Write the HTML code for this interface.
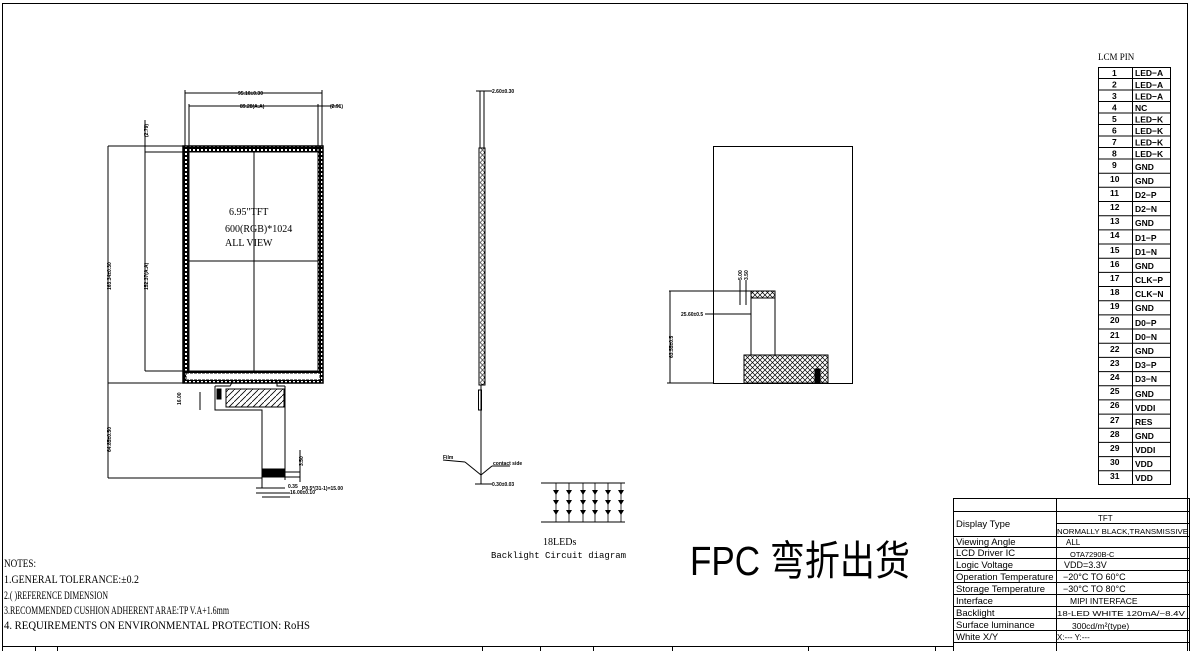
<!DOCTYPE html>
<html><head><meta charset="utf-8"><style>
html,body{margin:0;padding:0;background:#fff;}
svg{display:block;}
text{font-family:"Liberation Sans",sans-serif;fill:#000;}
.s{font-family:"Liberation Serif","Noto Serif CJK SC",serif;}
</style></head><body>
<svg width="1194" height="651" viewBox="0 0 1194 651" xmlns="http://www.w3.org/2000/svg">
<defs>
<pattern id="hat" width="6" height="6" patternUnits="userSpaceOnUse"><path d="M0 6L6 0" stroke="#000" stroke-width="0.8"/></pattern>
<pattern id="xh" width="5" height="5" patternUnits="userSpaceOnUse"><path d="M0 5L5 0M0 0L5 5" stroke="#000" stroke-width="0.7"/></pattern>
<pattern id="dots" width="4" height="4" patternUnits="userSpaceOnUse"><rect width="4" height="4" fill="#000"/><rect x="1" y="1" width="2" height="2" fill="#fff"/></pattern>
<pattern id="circ" width="5" height="5" patternUnits="userSpaceOnUse"><circle cx="2.5" cy="2.5" r="1.8" fill="none" stroke="#000" stroke-width="0.7"/></pattern>
</defs>
<g fill="none" stroke="#000" stroke-width="1">
<rect x="2.5" y="3.5" width="1185" height="650"/>
<line x1="2" y1="646.5" x2="953" y2="646.5"/>
<line x1="35.5" y1="646" x2="35.5" y2="651"/><line x1="57.5" y1="646" x2="57.5" y2="651"/>
<line x1="482.5" y1="646" x2="482.5" y2="651"/><line x1="540.5" y1="646" x2="540.5" y2="651"/>
<line x1="593.5" y1="646" x2="593.5" y2="651"/><line x1="672.5" y1="646" x2="672.5" y2="651"/>
<line x1="808.5" y1="646" x2="808.5" y2="651"/><line x1="935.5" y1="646" x2="935.5" y2="651"/>

<rect x="183" y="146" width="140" height="237" fill="url(#dots)" stroke-width="1.5"/>
<rect x="189" y="152" width="129" height="219" fill="#fff"/>
<rect x="186" y="373" width="134" height="7" fill="#fff" stroke-dasharray="3,1"/>
<line x1="254" y1="152" x2="254" y2="371"/><line x1="189" y1="261" x2="318" y2="261"/>
<line x1="185" y1="93" x2="322" y2="93"/><line x1="185" y1="90" x2="185" y2="146"/><line x1="322" y1="90" x2="322" y2="146"/>
<line x1="189" y1="106" x2="340" y2="106"/><line x1="189" y1="104" x2="189" y2="152"/><line x1="318" y1="104" x2="318" y2="152"/>
<line x1="108" y1="146" x2="184" y2="146"/><line x1="108" y1="146" x2="108" y2="478"/>
<line x1="108" y1="383" x2="184" y2="383"/>
<line x1="145" y1="120" x2="145" y2="371"/><line x1="145" y1="152" x2="189" y2="152"/><line x1="145" y1="371" x2="189" y2="371"/>
<line x1="108" y1="478" x2="262" y2="478"/>
<path d="M215 386V410H262V488M285 386V480"/>
<path d="M215 386H230L233 381M285 386H277V381"/>
<rect x="226" y="389" width="58" height="18" fill="url(#hat)"/>
<rect x="217" y="389" width="4" height="10" fill="#000"/>
<rect x="262" y="469" width="23" height="8" fill="#000"/>
<line x1="285" y1="472" x2="300" y2="472"/><line x1="285" y1="477" x2="300" y2="477"/>
<line x1="300" y1="450" x2="300" y2="482"/>
<line x1="256" y1="488" x2="285" y2="488"/><line x1="256" y1="493" x2="290" y2="493"/><line x1="262" y1="497" x2="290" y2="497"/>
<line x1="200" y1="392" x2="200" y2="410"/>

<line x1="476" y1="91" x2="492" y2="91"/>
<line x1="480" y1="91" x2="480" y2="148"/><line x1="484" y1="91" x2="484" y2="148"/>
<rect x="479" y="148" width="6" height="237" fill="url(#circ)"/>
<rect x="478.5" y="390" width="3" height="20"/>
<line x1="481" y1="385" x2="481" y2="484"/>
<line x1="443" y1="460" x2="465" y2="462"/><line x1="465" y1="462" x2="481" y2="475"/><line x1="481" y1="475" x2="492" y2="466"/><line x1="492" y1="466" x2="510" y2="466"/>
<line x1="475" y1="484" x2="492" y2="484"/>

<line x1="541" y1="483" x2="625" y2="483"/><line x1="541" y1="522" x2="625" y2="522"/>
<g stroke-width="0.8">
<line x1="556" y1="483" x2="556" y2="522"/><line x1="569" y1="483" x2="569" y2="522"/><line x1="583" y1="483" x2="583" y2="522"/>
<line x1="595" y1="483" x2="595" y2="522"/><line x1="608" y1="483" x2="608" y2="522"/><line x1="621" y1="483" x2="621" y2="522"/>
</g>
<g fill="#000" stroke="none">
<path d="M553 490h6l-3 5zM553 500h6l-3 5zM553 510h6l-3 5z"/>
<path d="M566 490h6l-3 5zM566 500h6l-3 5zM566 510h6l-3 5z"/>
<path d="M580 490h6l-3 5zM580 500h6l-3 5zM580 510h6l-3 5z"/>
<path d="M592 490h6l-3 5zM592 500h6l-3 5zM592 510h6l-3 5z"/>
<path d="M605 490h6l-3 5zM605 500h6l-3 5zM605 510h6l-3 5z"/>
<path d="M618 490h6l-3 5zM618 500h6l-3 5zM618 510h6l-3 5z"/>
</g>

<rect x="713.5" y="146.5" width="139" height="237"/>
<line x1="669" y1="291" x2="775" y2="291"/><line x1="670" y1="291" x2="670" y2="383"/><line x1="667" y1="383" x2="713" y2="383"/>
<rect x="751" y="291" width="24" height="7" fill="url(#xh)"/>
<line x1="751" y1="298" x2="751" y2="355"/><line x1="775" y1="298" x2="775" y2="355"/>
<line x1="705" y1="314" x2="751" y2="314"/>
<line x1="740" y1="280" x2="740" y2="305"/><line x1="746" y1="280" x2="746" y2="305"/>
<rect x="744" y="355" width="84" height="28" fill="url(#xh)"/>
<rect x="815" y="369" width="5" height="13" fill="#000"/>

<rect x="1098.5" y="67.5" width="72" height="417"/>
<line x1="1132.5" y1="67" x2="1132.5" y2="485"/>
</g>
<g stroke="#000" stroke-width="1">
<line x1="1098" y1="78.5" x2="1171" y2="78.5"/><line x1="1098" y1="90" x2="1171" y2="90"/>
<line x1="1098" y1="101.5" x2="1171" y2="101.5"/><line x1="1098" y1="113" x2="1171" y2="113"/>
<line x1="1098" y1="124.5" x2="1171" y2="124.5"/><line x1="1098" y1="136" x2="1171" y2="136"/>
<line x1="1098" y1="147.5" x2="1171" y2="147.5"/><line x1="1098" y1="159" x2="1171" y2="159"/>
<line x1="1098" y1="173.2" x2="1171" y2="173.2"/><line x1="1098" y1="187.3" x2="1171" y2="187.3"/>
<line x1="1098" y1="201.5" x2="1171" y2="201.5"/><line x1="1098" y1="215.7" x2="1171" y2="215.7"/>
<line x1="1098" y1="229.9" x2="1171" y2="229.9"/><line x1="1098" y1="244" x2="1171" y2="244"/>
<line x1="1098" y1="258.2" x2="1171" y2="258.2"/><line x1="1098" y1="272.4" x2="1171" y2="272.4"/>
<line x1="1098" y1="286.5" x2="1171" y2="286.5"/><line x1="1098" y1="300.7" x2="1171" y2="300.7"/>
<line x1="1098" y1="314.9" x2="1171" y2="314.9"/><line x1="1098" y1="329" x2="1171" y2="329"/>
<line x1="1098" y1="343.2" x2="1171" y2="343.2"/><line x1="1098" y1="357.4" x2="1171" y2="357.4"/>
<line x1="1098" y1="371.6" x2="1171" y2="371.6"/><line x1="1098" y1="385.7" x2="1171" y2="385.7"/>
<line x1="1098" y1="399.9" x2="1171" y2="399.9"/><line x1="1098" y1="414.1" x2="1171" y2="414.1"/>
<line x1="1098" y1="428.2" x2="1171" y2="428.2"/><line x1="1098" y1="442.4" x2="1171" y2="442.4"/>
<line x1="1098" y1="456.6" x2="1171" y2="456.6"/><line x1="1098" y1="470.7" x2="1171" y2="470.7"/>
</g>
<text x="1098" y="60" class="s" font-size="9" fill="#444">LCM PIN</text>
<g font-size="8.5" font-weight="bold">
<text x="1112" y="76">1</text><text x="1135" y="76">LED−A</text>
<text x="1112" y="87.5">2</text><text x="1135" y="88">LED−A</text>
<text x="1112" y="99">3</text><text x="1135" y="99.5">LED−A</text>
<text x="1112" y="110.5">4</text><text x="1135" y="111">NC</text>
<text x="1112" y="122">5</text><text x="1135" y="122.5">LED−K</text>
<text x="1112" y="133.5">6</text><text x="1135" y="134">LED−K</text>
<text x="1112" y="145">7</text><text x="1135" y="145.5">LED−K</text>
<text x="1112" y="156.5">8</text><text x="1135" y="157">LED−K</text>
<text x="1112" y="168">9</text><text x="1135" y="170">GND</text>
<text x="1110" y="182">10</text><text x="1135" y="184">GND</text>
<text x="1110" y="196">11</text><text x="1135" y="198">D2−P</text>
<text x="1110" y="210">12</text><text x="1135" y="212">D2−N</text>
<text x="1110" y="224">13</text><text x="1135" y="226">GND</text>
<text x="1110" y="238">14</text><text x="1135" y="241">D1−P</text>
<text x="1110" y="253">15</text><text x="1135" y="255">D1−N</text>
<text x="1110" y="267">16</text><text x="1135" y="269">GND</text>
<text x="1110" y="281">17</text><text x="1135" y="283">CLK−P</text>
<text x="1110" y="295">18</text><text x="1135" y="297">CLK−N</text>
<text x="1110" y="309">19</text><text x="1135" y="311">GND</text>
<text x="1110" y="323">20</text><text x="1135" y="326">D0−P</text>
<text x="1110" y="338">21</text><text x="1135" y="340">D0−N</text>
<text x="1110" y="352">22</text><text x="1135" y="354">GND</text>
<text x="1110" y="366">23</text><text x="1135" y="368">D3−P</text>
<text x="1110" y="380">24</text><text x="1135" y="382">D3−N</text>
<text x="1110" y="394">25</text><text x="1135" y="397">GND</text>
<text x="1110" y="408">26</text><text x="1135" y="411">VDDI</text>
<text x="1110" y="423">27</text><text x="1135" y="425">RES</text>
<text x="1110" y="437">28</text><text x="1135" y="439">GND</text>
<text x="1110" y="451">29</text><text x="1135" y="453">VDDI</text>
<text x="1110" y="465">30</text><text x="1135" y="467">VDD</text>
<text x="1110" y="479">31</text><text x="1135" y="481">VDD</text>
</g>

<g fill="none" stroke="#000" stroke-width="1">
<rect x="953.5" y="498.5" width="236" height="160"/>
<line x1="1056.5" y1="498" x2="1056.5" y2="651"/>
<line x1="953" y1="511.5" x2="1190" y2="511.5"/>
<line x1="1056" y1="523.5" x2="1190" y2="523.5"/>
<line x1="953" y1="536.5" x2="1190" y2="536.5"/>
<line x1="953" y1="547.5" x2="1190" y2="547.5"/>
<line x1="953" y1="558.5" x2="1190" y2="558.5"/>
<line x1="953" y1="570.5" x2="1190" y2="570.5"/>
<line x1="953" y1="582.5" x2="1190" y2="582.5"/>
<line x1="953" y1="594.5" x2="1190" y2="594.5"/>
<line x1="953" y1="606.5" x2="1190" y2="606.5"/>
<line x1="953" y1="618.5" x2="1190" y2="618.5"/>
<line x1="953" y1="630.5" x2="1190" y2="630.5"/>
<line x1="953" y1="642.5" x2="1190" y2="642.5"/>
</g>
<g font-size="9.5">
<text x="956" y="527">Display Type</text>
<text x="956" y="545">Viewing Angle</text>
<text x="956" y="556">LCD Driver IC</text>
<text x="956" y="568">Logic Voltage</text>
<text x="956" y="580">Operation Temperature</text>
<text x="956" y="592">Storage Temperature</text>
<text x="956" y="604">Interface</text>
<text x="956" y="616">Backlight</text>
<text x="956" y="628">Surface luminance</text>
<text x="956" y="640">White X/Y</text>
</g>
<g font-size="8">
<text x="1098" y="521">TFT</text>
<text x="1057" y="534" font-size="7" textLength="131" lengthAdjust="spacingAndGlyphs">NORMALLY BLACK,TRANSMISSIVE</text>
<text x="1066" y="545">ALL</text>
<text x="1070" y="557" font-size="7.5">OTA7290B-C</text>
<text x="1064" y="568" font-size="9">VDD=3.3V</text>
<text x="1063" y="580" font-size="9">−20°C TO 60°C</text>
<text x="1063" y="592" font-size="9">−30°C TO 80°C</text>
<text x="1070" y="604" font-size="8.5">MIPI INTERFACE</text>
<text x="1057" y="616" font-size="7.5" textLength="128" lengthAdjust="spacingAndGlyphs">18-LED WHITE 120mA/~8.4V</text>
<text x="1072" y="629" font-size="8.5">300cd/m²(type)</text>
<text x="1057" y="640" font-size="8">X:---  Y:---</text>
</g>

<g font-size="5" font-weight="bold">
<text x="238" y="95">95.10±0.30</text>
<text x="240" y="108">89.28(A.A)</text>
<text x="330" y="108">(2.91)</text>
<text x="492" y="93">2.60±0.30</text>
<text x="492" y="486">0.30±0.03</text>
<text x="443" y="459">Film</text>
<text x="493" y="465">contact side</text>
<text x="302" y="490">P0.5*(31-1)=15.00</text>
<text x="290" y="494">16.00±0.10</text>
<text x="288" y="488">0.35</text>
<text x="681" y="316">25.60±0.5</text>
<text transform="translate(111,290) rotate(-90)">163.34±0.30</text>
<text transform="translate(148,290) rotate(-90)">152.37(A.A)</text>
<text transform="translate(148,137) rotate(-90)">(2.79)</text>
<text transform="translate(111,452) rotate(-90)">64.85±0.50</text>
<text transform="translate(181,405) rotate(-90)">16.00</text>
<text transform="translate(303,466) rotate(-90)">3.50</text>
<text transform="translate(673,358) rotate(-90)">63.55±0.5</text>
<text transform="translate(742,280) rotate(-90)">5.00</text>
<text transform="translate(748,280) rotate(-90)">3.50</text>
</g>
<g font-size="10" fill="#333">
<text x="229" y="215" class="s">6.95"TFT</text>
<text x="225" y="232" class="s">600(RGB)*1024</text>
<text x="225" y="246" class="s">ALL VIEW</text>
<text x="543" y="545" class="s">18LEDs</text>
</g>
<text x="491" y="558" font-size="9" style="font-family:'Liberation Mono',monospace">Backlight Circuit diagram</text>
<text x="690" y="575" font-size="41" style="font-family:'Liberation Sans','Noto Sans CJK SC',sans-serif" textLength="220" lengthAdjust="spacingAndGlyphs">FPC 弯折出货</text>
<g font-size="12">
<text x="4" y="567" class="s" textLength="32" lengthAdjust="spacingAndGlyphs">NOTES:</text>
<text x="4" y="583" class="s" textLength="135" lengthAdjust="spacingAndGlyphs">1.GENERAL TOLERANCE:±0.2</text>
<text x="4" y="599" class="s" textLength="104" lengthAdjust="spacingAndGlyphs">2.(  )REFERENCE DIMENSION</text>
<text x="4" y="614" class="s" textLength="225" lengthAdjust="spacingAndGlyphs">3.RECOMMENDED CUSHION ADHERENT ARAE:TP V.A+1.6mm</text>
<text x="4" y="629" class="s" textLength="306" lengthAdjust="spacingAndGlyphs">4.  REQUIREMENTS ON ENVIRONMENTAL PROTECTION: RoHS</text>
</g>
</svg>
</body></html>
